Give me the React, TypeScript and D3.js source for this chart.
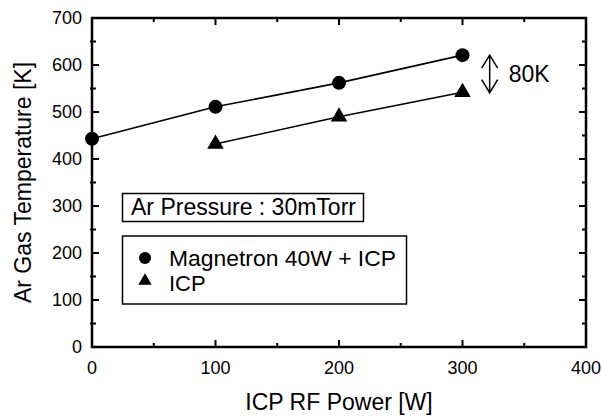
import React from "react";
import * as d3 from "d3";

const WIDTH = 601;
const HEIGHT = 418;

// plot area (pixels)
const LEFT = 92;
const RIGHT = 586;
const TOP = 18;
const BOTTOM = 347;

const FONT = "'Liberation Sans', Arial, Helvetica, sans-serif";

// data
const magnetronPower = [0, 100, 200, 300];
const magnetronTemp = [443, 511, 562, 621];
const icpPower = [100, 200, 300];
const icpTemp = [432, 490, 542];

const xTicks = [0, 100, 200, 300, 400];
const yTicks = [0, 100, 200, 300, 400, 500, 600, 700];
const xMinor = [50, 150, 250, 350];
const yMinor = [50, 150, 250, 350, 450, 550, 650];

// annotation: difference arrow
const diffX = 322;
const diffTop = 621;
const diffBottom = 541;
const diffLabel = "80K";

const legendNames = ["Magnetron 40W + ICP", "ICP"];
const conditionLabel = "Ar Pressure : 30mTorr";

const x = d3.scaleLinear().domain([0, 400]).range([LEFT, RIGHT]);
const y = d3.scaleLinear().domain([0, 700]).range([BOTTOM, TOP]);

const lineGen = d3
  .line<[number, number]>()
  .x((d) => x(d[0]))
  .y((d) => y(d[1]));

const triangle = d3.symbol().type(d3.symbolTriangle).size(118)();
const triangleSmall = d3.symbol().type(d3.symbolTriangle).size(78)();

export default function App() {
  const magData = magnetronPower.map((p, i) => [p, magnetronTemp[i]] as [number, number]);
  const icpData = icpPower.map((p, i) => [p, icpTemp[i]] as [number, number]);

  const ax = x(diffX);
  const ay1 = y(diffTop);
  const ay2 = y(diffBottom);

  return (
    <svg
      width={WIDTH}
      height={HEIGHT}
      style={{ position: "absolute", left: 0, top: 0, background: "white" }}
      fontFamily={FONT}
    >
      <rect width={WIDTH} height={HEIGHT} fill="white" />

      {/* ticks */}
      <g stroke="black" strokeWidth={2}>
        {xTicks.slice(1, -1).map((t) => (
          <g key={"xt" + t}>
            <line x1={x(t)} x2={x(t)} y1={BOTTOM} y2={BOTTOM - 7} />
            <line x1={x(t)} x2={x(t)} y1={TOP} y2={TOP + 7} />
          </g>
        ))}
        {xMinor.map((t) => (
          <g key={"xm" + t}>
            <line x1={x(t)} x2={x(t)} y1={BOTTOM} y2={BOTTOM - 4} />
            <line x1={x(t)} x2={x(t)} y1={TOP} y2={TOP + 4} />
          </g>
        ))}
        {yTicks.slice(1, -1).map((t) => (
          <g key={"yt" + t}>
            <line x1={LEFT} x2={LEFT + 7} y1={y(t)} y2={y(t)} />
            <line x1={RIGHT} x2={RIGHT - 7} y1={y(t)} y2={y(t)} />
          </g>
        ))}
        {yMinor.map((t) => (
          <g key={"ym" + t}>
            <line x1={LEFT - 2} x2={LEFT + 4} y1={y(t)} y2={y(t)} />
            <line x1={RIGHT} x2={RIGHT - 4} y1={y(t)} y2={y(t)} />
          </g>
        ))}
      </g>

      {/* frame */}
      <rect
        x={LEFT}
        y={TOP}
        width={RIGHT - LEFT}
        height={BOTTOM - TOP}
        fill="none"
        stroke="black"
        strokeWidth={2.5}
      />

      {/* tick labels */}
      {xTicks.map((t) => (
        <text key={"xl" + t} x={x(t)} y={BOTTOM + 27} textAnchor="middle" fontSize={18}>
          {t}
        </text>
      ))}
      {yTicks.map((t) => (
        <text
          key={"yl" + t}
          x={LEFT - 10}
          y={y(t)}
          textAnchor="end"
          dominantBaseline="central"
          fontSize={18}
        >
          {t}
        </text>
      ))}

      {/* axis titles */}
      <text x={(LEFT + RIGHT) / 2} y={410} textAnchor="middle" fontSize={23}>
        ICP RF Power [W]
      </text>
      <text
        transform={`translate(31, ${(TOP + BOTTOM) / 2}) rotate(-90)`}
        textAnchor="middle"
        fontSize={23}
      >
        Ar Gas Temperature [K]
      </text>

      {/* series */}
      <path d={lineGen(magData) || ""} fill="none" stroke="black" strokeWidth={1.6} />
      <path d={lineGen(icpData) || ""} fill="none" stroke="black" strokeWidth={1.6} />
      {magData.map((d, i) => (
        <circle key={"m" + i} cx={x(d[0])} cy={y(d[1])} r={7} fill="black" />
      ))}
      {icpData.map((d, i) => (
        <path key={"i" + i} d={triangle || ""} transform={`translate(${x(d[0])},${y(d[1])})`} fill="black" />
      ))}

      {/* 80K arrow */}
      <g stroke="black" strokeWidth={1.5} fill="none">
        <line x1={ax} x2={ax} y1={ay1} y2={ay2} />
        <polyline points={`${ax - 8},${ay1 + 13} ${ax},${ay1} ${ax + 8},${ay1 + 13}`} />
        <polyline points={`${ax - 8},${ay2 - 13} ${ax},${ay2} ${ax + 8},${ay2 - 13}`} />
      </g>
      <text x={ax + 19} y={y((diffTop + diffBottom) / 2) + 8} fontSize={23}>
        {diffLabel}
      </text>

      {/* condition box */}
      <rect x={122.5} y={193.5} width={241} height={28} fill="white" stroke="black" strokeWidth={1.5} />
      <text x={131} y={215} fontSize={23}>
        {conditionLabel}
      </text>

      {/* legend */}
      <rect x={122.5} y={236} width={284} height={68} fill="white" stroke="black" strokeWidth={1.5} />
      <circle cx={145} cy={258} r={6} fill="black" />
      <path d={triangleSmall || ""} transform="translate(145,281)" fill="black" />
      <text x={169} y={266} fontSize={22} textLength={227} lengthAdjust="spacingAndGlyphs">
        {legendNames[0]}
      </text>
      <text x={169} y={291} fontSize={22}>
        {legendNames[1]}
      </text>
    </svg>
  );
}
